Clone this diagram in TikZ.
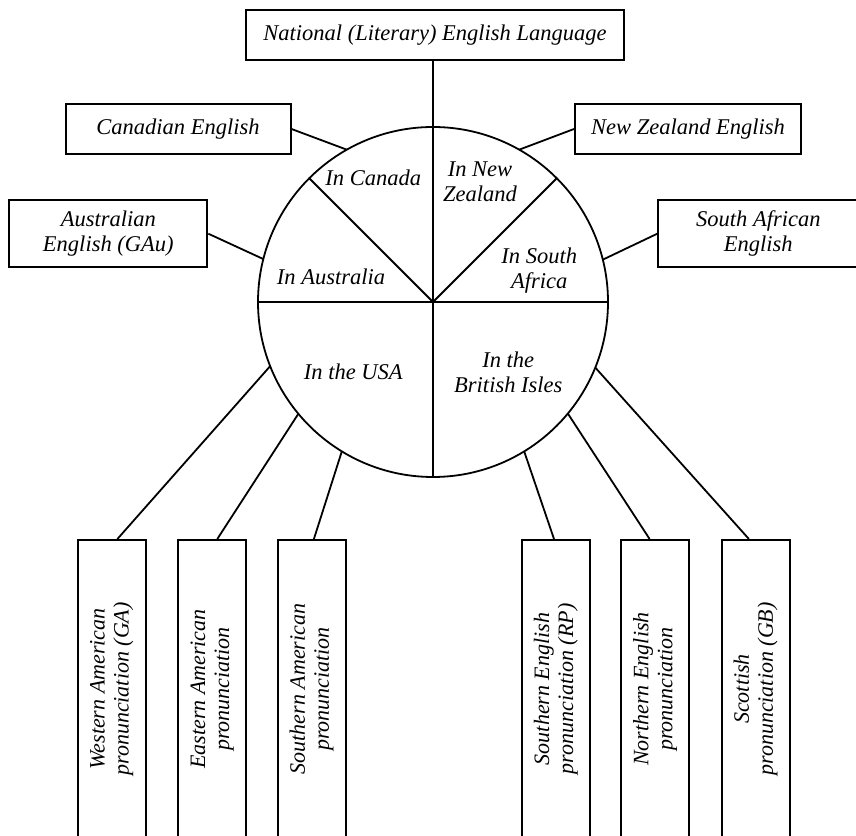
\documentclass[tikz,border=0pt]{standalone}
\usepackage{fontspec}
\setmainfont{Liberation Serif}
\usetikzlibrary{calc}
\begin{document}
\begin{tikzpicture}[x=1pt,y=1pt,
  box/.style={draw, line width=2pt, inner sep=0pt, align=center, font=\itshape\fontsize{22.5}{25}\selectfont},
  vbox/.style={box, rotate=90, minimum width=298pt, minimum height=68pt, font=\itshape\fontsize{22}{24}\selectfont},
  lbl/.style={inner sep=0pt, align=center, font=\itshape\fontsize{22.5}{25}\selectfont},
  conn/.style={line width=1.8pt}]
\useasboundingbox (0,0) rectangle (856,835);
\clip (0,0) rectangle (856,835);
\fill[white] (0,0) rectangle (856,835);

% centre of the circle
\coordinate (C) at (433,533);

% boxes
\node[box, minimum width=378pt, minimum height=50pt] (top) at (435,800) {National (Literary) English Language};
\node[box, minimum width=225pt, minimum height=50pt] (can) at (178,706) {Canadian English};
\node[box, minimum width=226pt, minimum height=50pt] (nz) at (688,706) {New Zealand English};
\node[box, minimum width=198pt, minimum height=67pt] (aus) at (108.3,601.3) {Australian\\English (GAu)};
\node[box, minimum width=200pt, minimum height=67pt] (sa) at (758.3,601.3) {South African\\English};

\node[vbox] (b1) at (111.7,146) {Western American\\pronunciation (GA)};
\node[vbox] (b2) at (212.2,146) {Eastern American\\pronunciation};
\node[vbox] (b3) at (311.7,146) {Southern American\\pronunciation};
\node[vbox] (b4) at (555.8,146) {Southern English\\pronunciation (RP)};
\node[vbox] (b5) at (655,146) {Northern English\\pronunciation};
\node[vbox] (b6) at (755.5,146) {Scottish\\pronunciation (GB)};

% circle and its divisions
\draw[conn] (C) circle[radius=175];
\coordinate (cT) at ($(C)+(90:175)$);
\coordinate (cB) at ($(C)+(270:175)$);
\coordinate (cL) at ($(C)+(180:175)$);
\coordinate (cR) at ($(C)+(0:175)$);
\coordinate (d1) at ($(C)+(135:175)$);
\coordinate (d2) at ($(C)+(45:175)$);
\draw[conn] (top.south -| C) -- (cB);
\draw[conn] (cL) -- (cR);
\draw[conn] (C) -- (d1);
\draw[conn] (C) -- (d2);

% contact points on the circle
\coordinate (pCan) at ($(C)+(119.5:175)$);
\coordinate (pNZ)  at ($(C)+(60.5:175)$);
\coordinate (pAus) at ($(C)+(165.8:175)$);
\coordinate (pSA)  at ($(C)+(14:175)$);
\coordinate (p1) at ($(C)+(201.5:175)$);
\coordinate (p2) at ($(C)+(219.7:175)$);
\coordinate (p3) at ($(C)+(238.6:175)$);
\coordinate (p4) at ($(C)+(301.4:175)$);
\coordinate (p5) at ($(C)+(320.4:175)$);
\coordinate (p6) at ($(C)+(338:175)$);

% connectors
\draw[conn] (can.east) -- (pCan);
\draw[conn] (nz.west) -- (pNZ);
\draw[conn] (aus.east) -- (pAus);
\draw[conn] (sa.west) -- (pSA);
\draw[conn] ($(b1.east)+(5.7,0)$) -- (p1);
\draw[conn] ($(b2.east)+(5.1,0)$) -- (p2);
\draw[conn] ($(b3.east)+(2.2,0)$) -- (p3);
\draw[conn] ($(b4.east)+(-1.8,0)$) -- (p4);
\draw[conn] ($(b5.east)+(-5.4,0)$) -- (p5);
\draw[conn] ($(b6.east)+(-6.6,0)$) -- (p6);

% labels inside the circle
\node[lbl] (lCan) at (373.3,656.7) {In Canada};
\node[lbl] (lNZ)  at (480,653.3) {In New\\Zealand};
\node[lbl] (lAus) at (331,558.3) {In Australia};
\node[lbl] (lSA)  at (539.3,564) {In South\\Africa};
\node[lbl] (lUSA) at (353.3,463.3) {In the USA};
\node[lbl] (lBI)  at (508.3,462.5) {In the\\British Isles};
\end{tikzpicture}
\end{document}
